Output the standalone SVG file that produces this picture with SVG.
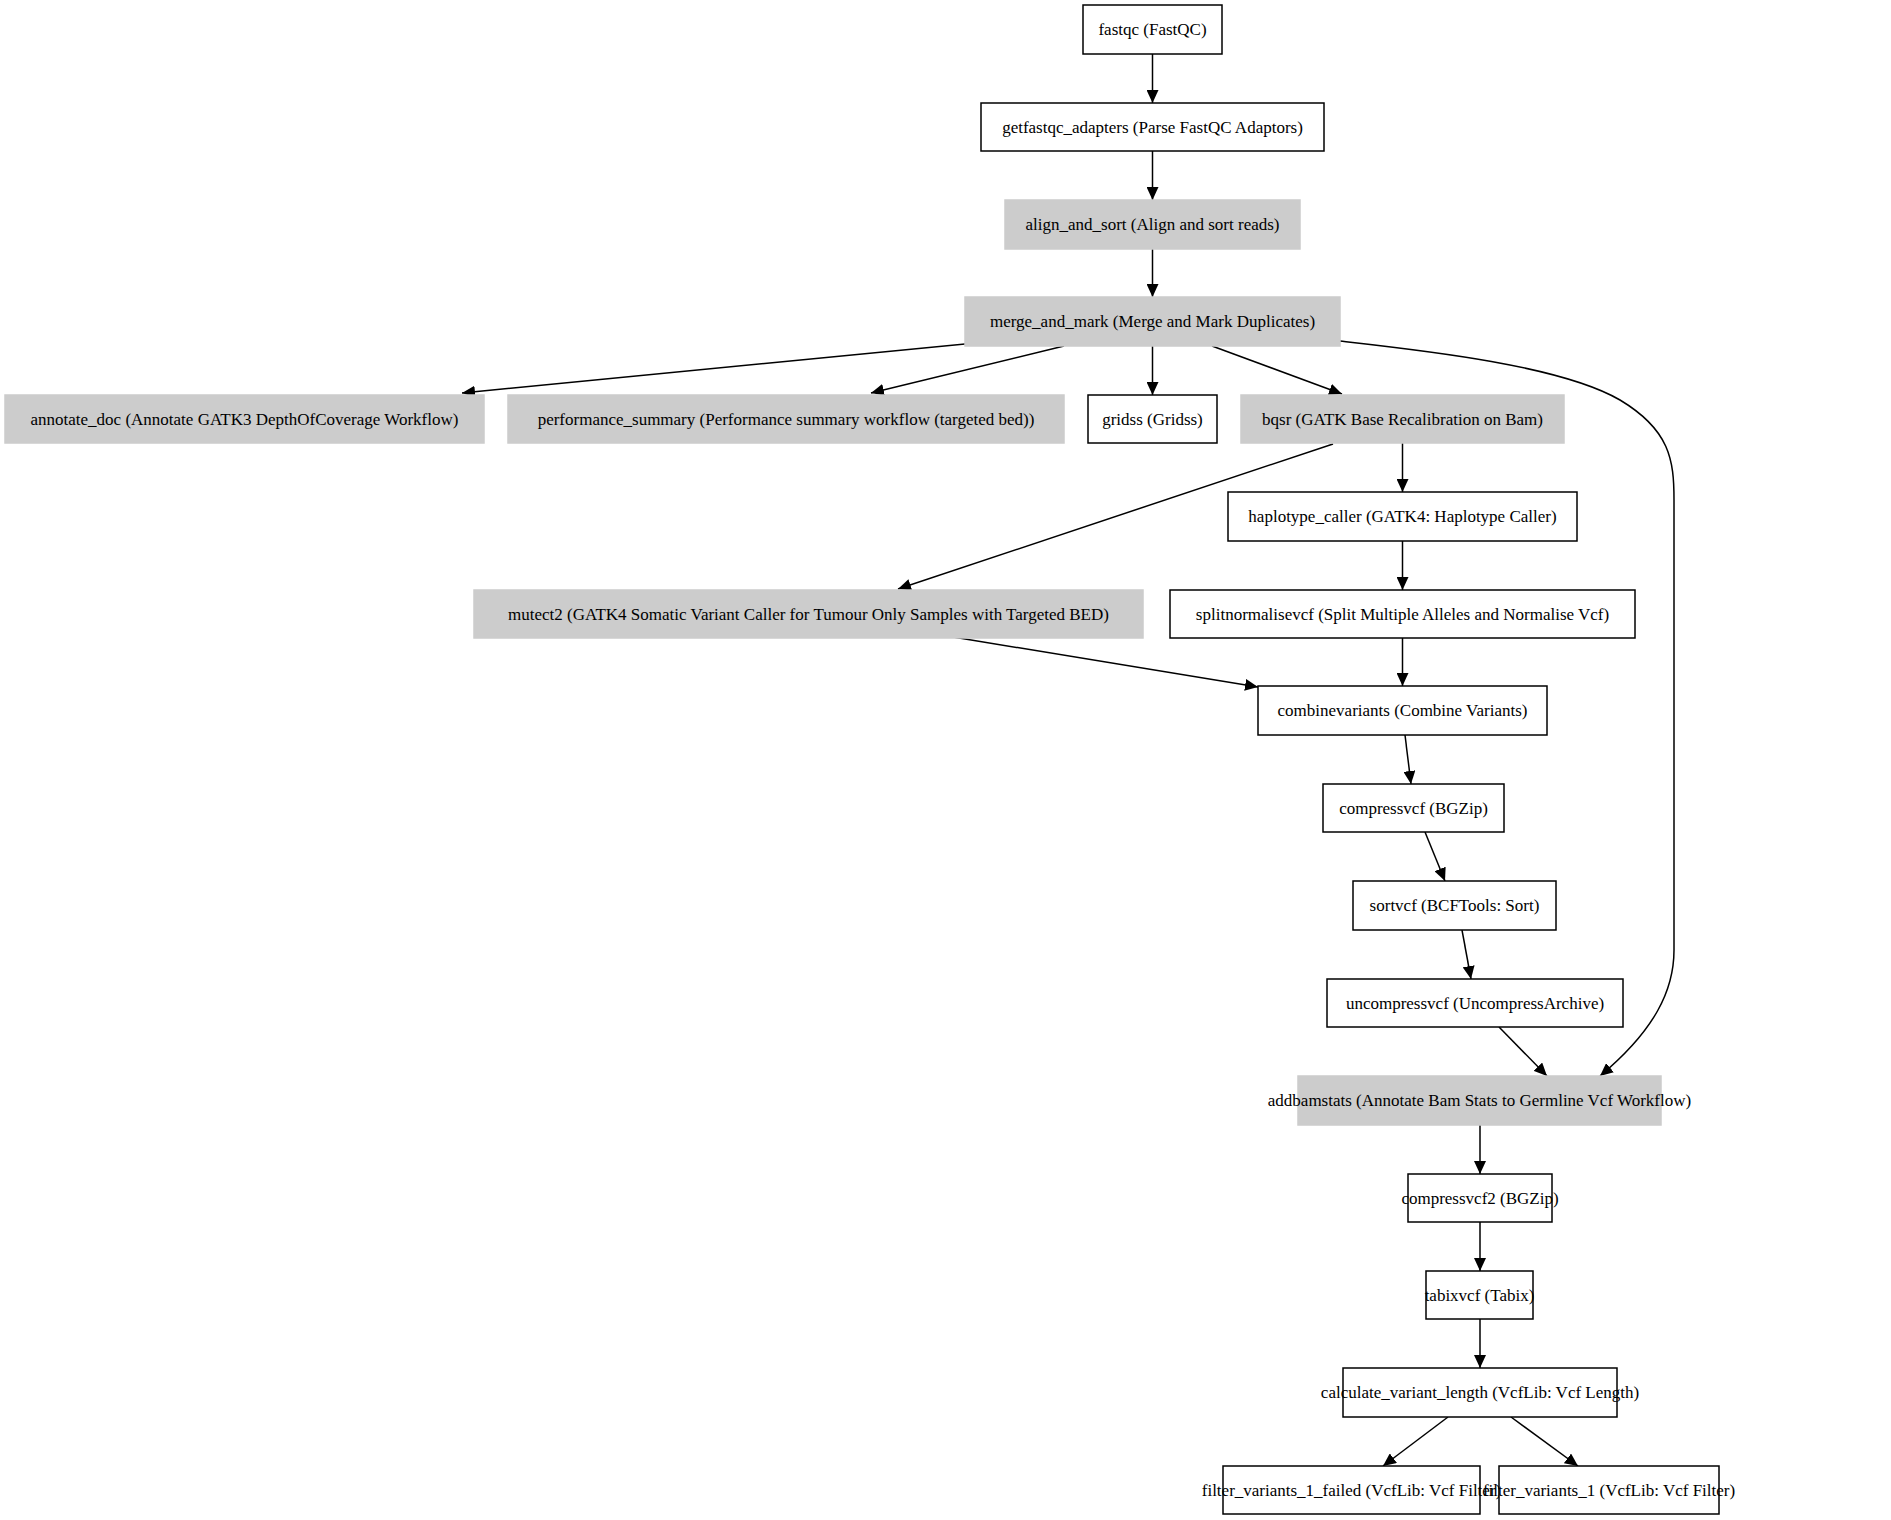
<svg xmlns="http://www.w3.org/2000/svg" width="1891" height="1520" viewBox="0 0 1891 1520">
<style>
.n rect{fill:#fff;stroke:#000;stroke-width:1.5}
.g rect{fill:#ccc;stroke:#ccc;stroke-width:1.5}
text{font-family:"Liberation Serif","Times New Roman",serif;font-size:17px;fill:#000;text-anchor:middle;dominant-baseline:central}
.e path{fill:none;stroke:#000;stroke-width:1.5;marker-end:url(#a)}
</style>
<defs><marker id="a" markerUnits="userSpaceOnUse" markerWidth="14" markerHeight="12" refX="13" refY="6" orient="auto"><path d="M0,0 L13,6 L0,12 z" fill="#000"/></marker></defs>
<rect width="1891" height="1520" fill="#fff"/>
<g class="e">
<path d="M1152.5,54 V103"/>
<path d="M1152.5,151 V200"/>
<path d="M1152.5,249 V297"/>
<path d="M965,344 L462,393"/>
<path d="M1064,346 L871,393"/>
<path d="M1152.5,346 V395"/>
<path d="M1212,346 L1342,394"/>
<path d="M1340,341 C1420,350 1560,365 1620,400 C1670,430 1674,460 1674,500 L1674,950 C1674,990 1655,1030 1600,1076"/>
<path d="M1333,444 L898,589"/>
<path d="M1402.5,443 V492"/>
<path d="M1402.5,541 V590"/>
<path d="M953,637 L1258,687"/>
<path d="M1402.5,638 V686"/>
<path d="M1405,735 L1411,784"/>
<path d="M1425,832 L1445,881"/>
<path d="M1462,930 L1471,979"/>
<path d="M1499,1027 L1547,1076"/>
<path d="M1480,1125 V1174"/>
<path d="M1480,1222 V1271"/>
<path d="M1480,1319 V1368"/>
<path d="M1448,1417 L1383,1466"/>
<path d="M1511,1417 L1578,1466"/>
</g>
<g id="fastqc" class="n"><rect x="1083" y="5" width="139" height="49"/><text x="1152.5" y="29.5">fastqc (FastQC)</text></g>
<g id="getfastqc_adapters" class="n"><rect x="981" y="103" width="343" height="48"/><text x="1152.5" y="127">getfastqc_adapters (Parse FastQC Adaptors)</text></g>
<g id="align_and_sort" class="g"><rect x="1005" y="200" width="295" height="49"/><text x="1152.5" y="224.5">align_and_sort (Align and sort reads)</text></g>
<g id="merge_and_mark" class="g"><rect x="965" y="297" width="375" height="49"/><text x="1152.5" y="321.5">merge_and_mark (Merge and Mark Duplicates)</text></g>
<g id="annotate_doc" class="g"><rect x="5" y="395" width="479" height="48"/><text x="244.5" y="419">annotate_doc (Annotate GATK3 DepthOfCoverage Workflow)</text></g>
<g id="performance_summary" class="g"><rect x="508" y="395" width="556" height="48"/><text x="786" y="419">performance_summary (Performance summary workflow (targeted bed))</text></g>
<g id="gridss" class="n"><rect x="1088" y="395" width="129" height="48"/><text x="1152.5" y="419">gridss (Gridss)</text></g>
<g id="bqsr" class="g"><rect x="1241" y="395" width="323" height="48"/><text x="1402.5" y="419">bqsr (GATK Base Recalibration on Bam)</text></g>
<g id="haplotype_caller" class="n"><rect x="1228" y="492" width="349" height="49"/><text x="1402.5" y="516.5">haplotype_caller (GATK4: Haplotype Caller)</text></g>
<g id="mutect2" class="g"><rect x="474" y="590" width="669" height="48"/><text x="808.5" y="614">mutect2 (GATK4 Somatic Variant Caller for Tumour Only Samples with Targeted BED)</text></g>
<g id="splitnormalisevcf" class="n"><rect x="1170" y="590" width="465" height="48"/><text x="1402.5" y="614">splitnormalisevcf (Split Multiple Alleles and Normalise Vcf)</text></g>
<g id="combinevariants" class="n"><rect x="1258" y="686" width="289" height="49"/><text x="1402.5" y="710.5">combinevariants (Combine Variants)</text></g>
<g id="compressvcf" class="n"><rect x="1323" y="784" width="181" height="48"/><text x="1413.5" y="808">compressvcf (BGZip)</text></g>
<g id="sortvcf" class="n"><rect x="1353" y="881" width="203" height="49"/><text x="1454.5" y="905.5">sortvcf (BCFTools: Sort)</text></g>
<g id="uncompressvcf" class="n"><rect x="1327" y="979" width="296" height="48"/><text x="1475" y="1003">uncompressvcf (UncompressArchive)</text></g>
<g id="addbamstats" class="g"><rect x="1298" y="1076" width="363" height="49"/><text x="1479.5" y="1100.5">addbamstats (Annotate Bam Stats to Germline Vcf Workflow)</text></g>
<g id="compressvcf2" class="n"><rect x="1408" y="1174" width="144" height="48"/><text x="1480" y="1198">compressvcf2 (BGZip)</text></g>
<g id="tabixvcf" class="n"><rect x="1426" y="1271" width="107" height="48"/><text x="1479.5" y="1295">tabixvcf (Tabix)</text></g>
<g id="calculate_variant_length" class="n"><rect x="1343" y="1368" width="274" height="49"/><text x="1480" y="1392.5">calculate_variant_length (VcfLib: Vcf Length)</text></g>
<g id="filter_variants_1_failed" class="n"><rect x="1223" y="1466" width="257" height="48"/><text x="1351.5" y="1490">filter_variants_1_failed (VcfLib: Vcf Filter)</text></g>
<g id="filter_variants_1" class="n"><rect x="1499" y="1466" width="220" height="48"/><text x="1609" y="1490">filter_variants_1 (VcfLib: Vcf Filter)</text></g>
</svg>
